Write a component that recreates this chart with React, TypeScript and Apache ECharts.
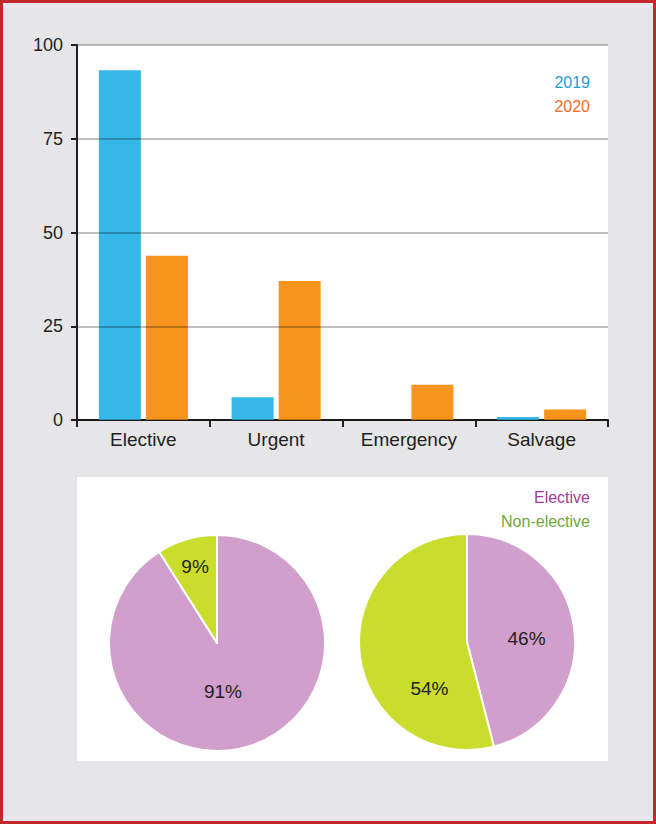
import React, { useEffect, useRef } from "react";
import * as echarts from "echarts";

const categories = ["Elective", "Urgent", "Emergency", "Salvage"];
const years = ["2019", "2020"];
const values2019 = [93.3, 6.1, 0, 0.8];
const values2020 = [43.8, 37.1, 9.4, 2.8];
const yTicks = { min: 0, max: 100, interval: 25 };

const pieNames = ["Elective", "Non-elective"];
const pie2019 = [91, 9];
const pie2020 = [46, 54];

const FONT = "'Liberation Sans', Arial, sans-serif";
const INK = "#231f20";
const BLUE = "#35b7e8";
const ORANGE = "#f7941e";
const PURPLE = "#d09fcb";
const GREEN = "#cadc2c";

// label offsets (style only) for pie labels, per data index
const leftPieShift = [[-10, -6], [-6, -22]];
const rightPieShift = [[3, 4], [19, 39]];

export default function App() {
  const ref = useRef<HTMLDivElement>(null);
  useEffect(() => {
    if (!ref.current) return;
    const chart = echarts.init(ref.current, null, { renderer: "svg" });
    const pieSeries = (vals: number[], cx: number, cy: number, shift: number[][]) => ({
      type: "pie",
      center: [cx, cy],
      radius: 108,
      startAngle: 90,
      clockwise: true,
      silent: true,
      itemStyle: { borderColor: "#ffffff", borderWidth: 2 },
      label: {
        show: true,
        position: "inside",
        formatter: "{c}%",
        fontSize: 19,
        fontFamily: FONT,
        color: INK,
      },
      labelLine: { show: false },
      labelLayout: (params: any) => {
        const d = shift[params.dataIndex];
        return d ? { dx: d[0], dy: d[1] } : {};
      },
      data: pieNames.map((n, i) => ({
        name: n,
        value: vals[i],
        itemStyle: { color: i === 0 ? PURPLE : GREEN },
      })),
    });
    chart.setOption({
      animation: false,
      backgroundColor: "#e6e6e8",
      graphic: [
        {
          type: "rect",
          z: 0,
          shape: { x: 77, y: 477, width: 531, height: 284 },
          style: { fill: "#ffffff" },
        },
        {
          type: "rect",
          z: 100,
          shape: { x: 1.5, y: 1.5, width: 653, height: 821 },
          style: { fill: "none", stroke: "#c1272d", lineWidth: 3 },
        },
      ],
      legend: [
        {
          orient: "vertical",
          right: 61,
          top: 74,
          padding: 0,
          icon: "none",
          itemWidth: 0,
          itemHeight: 17,
          itemGap: 7,
          align: "right",
          selectedMode: false,
          textStyle: { fontSize: 16, fontFamily: FONT },
          data: [
            { name: years[0], textStyle: { color: "#1e9bd7" } },
            { name: years[1], textStyle: { color: "#f26a2e" } },
          ],
        },
        {
          orient: "vertical",
          right: 61,
          top: 489,
          padding: 0,
          icon: "none",
          itemWidth: 0,
          itemHeight: 17,
          itemGap: 7,
          align: "right",
          selectedMode: false,
          textStyle: { fontSize: 16, fontFamily: FONT },
          data: [
            { name: pieNames[0], textStyle: { color: "#a53a9c" } },
            { name: pieNames[1], textStyle: { color: "#6fa83a" } },
          ],
        },
      ],
      grid: {
        left: 77,
        right: 48,
        top: 45,
        bottom: 404,
        show: true,
        backgroundColor: "#ffffff",
        borderWidth: 0,
      },
      xAxis: {
        type: "category",
        data: categories,
        axisLine: { lineStyle: { color: INK, width: 2 } },
        axisTick: { show: true, length: 7, lineStyle: { color: INK, width: 2 } },
        axisLabel: { interval: 0, fontSize: 19, fontFamily: FONT, color: INK, margin: 10 },
      },
      yAxis: {
        type: "value",
        min: yTicks.min,
        max: yTicks.max,
        interval: yTicks.interval,
        z: 5,
        axisLine: { show: true, lineStyle: { color: INK, width: 2 } },
        axisTick: { show: true, length: 6, lineStyle: { color: INK, width: 2 } },
        axisLabel: { fontSize: 18, fontFamily: FONT, color: INK, margin: 14 },
        splitLine: { show: true, lineStyle: { color: "rgba(0,0,0,0.25)", width: 2 } },
      },
      series: [
        {
          name: years[0],
          type: "bar",
          data: values2019,
          barWidth: 42,
          barGap: "12%",
          itemStyle: { color: BLUE },
          silent: true,
        },
        {
          name: years[1],
          type: "bar",
          data: values2020,
          barWidth: 42,
          barGap: "12%",
          itemStyle: { color: ORANGE },
          silent: true,
        },
        pieSeries(pie2019, 217, 643, leftPieShift),
        pieSeries(pie2020, 467, 642, rightPieShift),
      ],
    });
    return () => chart.dispose();
  }, []);
  return (
    <div
      ref={ref}
      style={{ position: "absolute", left: 0, top: 0, width: 656, height: 824 }}
    />
  );
}
